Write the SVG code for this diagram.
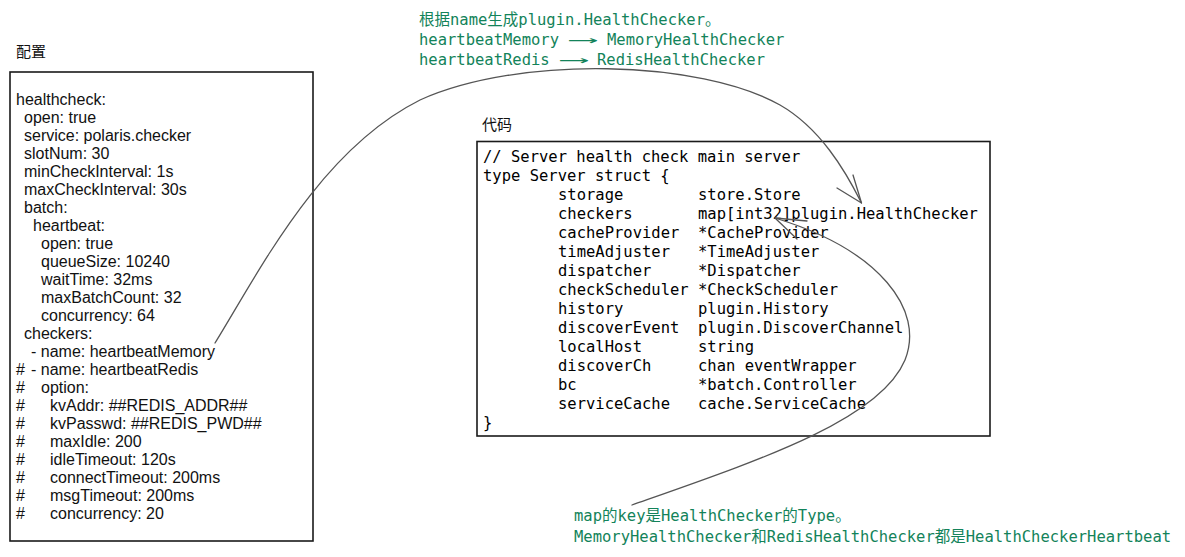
<svg xmlns="http://www.w3.org/2000/svg" width="1185" height="557" viewBox="0 0 1185 557">
<style>
.cfg{font-family:"Liberation Sans",Arial,sans-serif;font-size:16px;fill:#111}
.ttl{font-family:"Noto Sans CJK SC","Liberation Sans",sans-serif;font-size:15px;fill:#111}
.code{font-family:"DejaVu Sans Mono","Liberation Mono",monospace;font-size:15.5px;fill:#000}
.note{font-family:"DejaVu Sans Mono","Noto Sans CJK SC",monospace;font-size:15.5px;fill:#13835a}
.box{fill:#fff;stroke:#1a1a1a;stroke-width:1.6}
.conn{fill:none;stroke:#555;stroke-width:1.3;stroke-linecap:round;stroke-linejoin:round}
</style>
<rect width="1185" height="557" fill="#fff"/>

<g id="config">
<text class="ttl" x="16" y="57">配置</text>
<rect class="box" x="10" y="72" width="303" height="469"/>
<text class="cfg" x="16" y="105">healthcheck:</text>
<text class="cfg" x="24" y="123">open: true</text>
<text class="cfg" x="24" y="141">service: polaris.checker</text>
<text class="cfg" x="24" y="159">slotNum: 30</text>
<text class="cfg" x="24" y="177">minCheckInterval: 1s</text>
<text class="cfg" x="24" y="195">maxCheckInterval: 30s</text>
<text class="cfg" x="24" y="213">batch:</text>
<text class="cfg" x="33" y="231">heartbeat:</text>
<text class="cfg" x="41" y="249">open: true</text>
<text class="cfg" x="41" y="267">queueSize: 10240</text>
<text class="cfg" x="41" y="285">waitTime: 32ms</text>
<text class="cfg" x="41" y="303">maxBatchCount: 32</text>
<text class="cfg" x="41" y="321">concurrency: 64</text>
<text class="cfg" x="24" y="339">checkers:</text>
<text class="cfg" x="31" y="357">- name: heartbeatMemory</text>
<text class="cfg" x="16" y="375">#</text><text class="cfg" x="31" y="375">- name: heartbeatRedis</text>
<text class="cfg" x="16" y="393">#</text><text class="cfg" x="41" y="393">option:</text>
<text class="cfg" x="16" y="411">#</text><text class="cfg" x="50" y="411">kvAddr: ##REDIS_ADDR##</text>
<text class="cfg" x="16" y="429">#</text><text class="cfg" x="50" y="429">kvPasswd: ##REDIS_PWD##</text>
<text class="cfg" x="16" y="447">#</text><text class="cfg" x="50" y="447">maxIdle: 200</text>
<text class="cfg" x="16" y="465">#</text><text class="cfg" x="50" y="465">idleTimeout: 120s</text>
<text class="cfg" x="16" y="483">#</text><text class="cfg" x="50" y="483">connectTimeout: 200ms</text>
<text class="cfg" x="16" y="501">#</text><text class="cfg" x="50" y="501">msgTimeout: 200ms</text>
<text class="cfg" x="16" y="519">#</text><text class="cfg" x="50" y="519">concurrency: 20</text>
</g>

<g id="code">
<text class="ttl" x="482" y="130">代码</text>
<rect class="box" x="477" y="141.5" width="513" height="294.5"/>
<text class="code" x="483" y="162">// Server health check main server</text>
<text class="code" x="483" y="181">type Server struct {</text>
<text class="code" x="558" y="200">storage</text><text class="code" x="698" y="200">store.Store</text>
<text class="code" x="558" y="219">checkers</text><text class="code" x="698" y="219">map[int32]plugin.HealthChecker</text>
<text class="code" x="558" y="238">cacheProvider</text><text class="code" x="698" y="238">*CacheProvider</text>
<text class="code" x="558" y="257">timeAdjuster</text><text class="code" x="698" y="257">*TimeAdjuster</text>
<text class="code" x="558" y="276">dispatcher</text><text class="code" x="698" y="276">*Dispatcher</text>
<text class="code" x="558" y="295">checkScheduler</text><text class="code" x="698" y="295">*CheckScheduler</text>
<text class="code" x="558" y="314">history</text><text class="code" x="698" y="314">plugin.History</text>
<text class="code" x="558" y="333">discoverEvent</text><text class="code" x="698" y="333">plugin.DiscoverChannel</text>
<text class="code" x="558" y="352">localHost</text><text class="code" x="698" y="352">string</text>
<text class="code" x="558" y="371">discoverCh</text><text class="code" x="698" y="371">chan eventWrapper</text>
<text class="code" x="558" y="390">bc</text><text class="code" x="698" y="390">*batch.Controller</text>
<text class="code" x="558" y="409">serviceCache</text><text class="code" x="698" y="409">cache.ServiceCache</text>
<text class="code" x="483" y="428">}</text>
</g>

<g id="note-top">
<text class="note" x="419" y="25">根据name生成plugin.HealthChecker。</text>
<text class="note" x="419" y="45">heartbeatMemory</text>
<text class="note" x="571" y="45" textLength="24" lengthAdjust="spacingAndGlyphs">⟶</text>
<text class="note" x="607" y="45">MemoryHealthChecker</text>
<text class="note" x="419" y="65">heartbeatRedis</text>
<text class="note" x="562" y="65" textLength="24" lengthAdjust="spacingAndGlyphs">⟶</text>
<text class="note" x="597" y="65">RedisHealthChecker</text>
</g>

<g id="note-bottom">
<text class="note" x="574" y="521">map的key是HealthChecker的Type。</text>
<text class="note" x="574" y="542">MemoryHealthChecker和RedisHealthChecker都是HealthCheckerHeartbeat</text>
</g>

<g id="connectors">
<path class="conn" d="M215,343 C260,270 320,150 420,100 C520,55 700,60 780,105 C820,128 845,170 861.5,203"/>
<path class="conn" d="M853,175 L861.5,203 L837,188"/>
<path class="conn" d="M632,505 C760,460 880,420 905,360 C925,310 880,250 775,218"/>
<path class="conn" d="M807,221 L775,218 L797,239"/>
</g>
</svg>
